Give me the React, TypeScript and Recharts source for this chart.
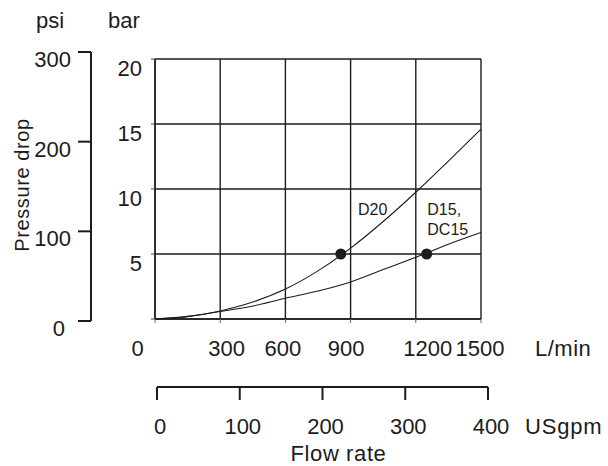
import { ComposedChart, LineChart, Line, Scatter, XAxis, YAxis, CartesianGrid, ReferenceDot } from "recharts";

// flow rate (L/min) and pressure drop (bar)
const flowLpm = [0, 150, 300, 450, 600, 750, 900, 1050, 1200, 1350, 1500];
const d20Bar = [0, 0.18, 0.62, 1.3, 2.3, 3.7, 5.45, 7.5, 9.75, 12.15, 14.6];
const d15Bar = [0, 0.2, 0.58, 1.0, 1.6, 2.15, 2.85, 3.8, 4.75, 5.75, 6.65];

// rated points marked with a dot
const d20Rated = [{ flow: 855, bar: 5 }];
const d15Rated = [{ flow: 1250, bar: 5 }];

const lpmTicks = [0, 300, 600, 900, 1200, 1500];
const barTicks = [0, 5, 10, 15, 20];
const psiTicks = [0, 100, 200, 300];
const gpmTicks = [0, 100, 200, 300, 400];

const rows = flowLpm.map((f, i) => ({ flow: f, d20: d20Bar[i], d15: d15Bar[i] }));
const psiRows = psiTicks.map((v, i) => ({ i, psi: v }));
const gpmRows = gpmTicks.map((v) => ({ gpm: v, y: 0 }));

const INK = "#1c1c1c";
const FONT = "'Liberation Sans', Arial, sans-serif";

// the printed tick labels are not quite centred on their grid lines
const lpmNudge: Record<number, number> = { 0: -17.5, 300: 6.5, 600: -2.5, 900: -4.5, 1200: 12, 1500: -1 };

const LpmTick = (p: any) => (
  <text x={p.x + (lpmNudge[p.payload.value] ?? 0)} y={p.y + 33} textAnchor="middle" fill={INK} fontSize={22} fontFamily={FONT}>
    {p.payload.value}
  </text>
);

const BarTick = (p: any) =>
  p.payload.value === 0 ? <g /> : (
    <text x={p.x} y={p.y + 16.7} textAnchor="end" fill={INK} fontSize={22} fontFamily={FONT}>
      {p.payload.value}
    </text>
  );

const PsiTick = (p: any) => (
  <text x={p.x + (p.payload.value === 0 ? -6 : 0)} y={p.y + 15} textAnchor="end" fill={INK} fontSize={22} fontFamily={FONT}>
    {p.payload.value}
  </text>
);

const GpmTick = (p: any) => (
  <text x={p.x + 3} y={p.y + 34} textAnchor="middle" fill={INK} fontSize={22} fontFamily={FONT}>
    {p.payload.value}
  </text>
);

const lbl = (value: string) => ({ value, position: "right" as const, offset: 0, fill: INK, fontSize: 16, fontFamily: FONT });

export default function App() {
  const layer = { position: "absolute" as const, left: 0, top: 0 };
  return (
    <div style={{ position: "absolute", left: 0, top: 0, width: 608, height: 466, background: "#fff", fontFamily: FONT }}>
      {/* main grid, bar axis and L/min axis */}
      <div style={layer}>
        <ComposedChart width={608} height={466} data={rows} margin={{ top: 59, right: 127, left: 115, bottom: 117 }}>
          <CartesianGrid stroke={INK} strokeWidth={1.4} horizontalValues={barTicks} verticalValues={lpmTicks} />
          <XAxis dataKey="flow" type="number" domain={[0, 1500]} ticks={lpmTicks} height={30}
            axisLine={{ stroke: INK, strokeWidth: 1.4 }} tickLine={{ stroke: "#666" }} tickSize={4} tickMargin={0} tick={LpmTick} />
          <YAxis type="number" domain={[0, 20]} ticks={barTicks} width={40}
            axisLine={{ stroke: INK, strokeWidth: 1.4 }} tickLine={{ stroke: "#444" }} tickSize={4} tickMargin={9} tick={BarTick} />
          <Line type="monotone" dataKey="d20" stroke={INK} strokeWidth={1.1} dot={false} isAnimationActive={false} />
          <Line type="monotone" dataKey="d15" stroke={INK} strokeWidth={1.1} dot={false} isAnimationActive={false} />
          <Scatter data={d20Rated} dataKey="bar" fill={INK} isAnimationActive={false}
            shape={(s: any) => <circle cx={s.cx} cy={s.cy} r={5.5} fill={INK} />} />
          <Scatter data={d15Rated} dataKey="bar" fill={INK} isAnimationActive={false}
            shape={(s: any) => <circle cx={s.cx} cy={s.cy} r={5.5} fill={INK} />} />
          <ReferenceDot x={934} y={8.45} r={0} fill="none" stroke="none" label={lbl("D20")} />
          <ReferenceDot x={1253} y={8.45} r={0} fill="none" stroke="none" label={lbl("D15,")} />
          <ReferenceDot x={1253} y={6.92} r={0} fill="none" stroke="none" label={lbl("DC15")} />
        </ComposedChart>
      </div>

      {/* psi scale */}
      <div style={layer}>
        <LineChart width={100} height={466} data={psiRows} margin={{ top: 52, right: 0, left: 0, bottom: 145 }}>
          <XAxis hide dataKey="i" type="number" domain={[0, 3]} />
          <YAxis type="number" domain={[0, 300]} ticks={psiTicks} width={91}
            axisLine={{ stroke: INK, strokeWidth: 2 }} tickLine={{ stroke: INK, strokeWidth: 2 }} tickSize={13} tickMargin={7} tick={PsiTick} />
          <Line dataKey="psi" stroke="none" dot={false} isAnimationActive={false} />
        </LineChart>
      </div>

      {/* USgpm scale */}
      <div style={layer}>
        <LineChart width={608} height={466} data={gpmRows} margin={{ top: 380, right: 120, left: 157, bottom: 39 }}>
          <XAxis dataKey="gpm" type="number" domain={[0, 400]} ticks={gpmTicks} height={40}
            axisLine={{ stroke: INK, strokeWidth: 2 }} tickLine={{ stroke: INK, strokeWidth: 2 }} tickSize={13} tickMargin={0} tick={GpmTick} />
          <YAxis hide type="number" domain={[0, 1]} />
          <Line dataKey="y" stroke="none" dot={false} isAnimationActive={false} />
        </LineChart>
      </div>

      {/* units and axis titles */}
      <svg style={layer} width={608} height={466}>
        <g fill={INK} fontFamily={FONT} fontSize={22}>
          <text x={36} y={28}>psi</text>
          <text x={108} y={28}>bar</text>
          <text x={535} y={356} letterSpacing={0.5}>L/min</text>
          <text x={525} y={434} letterSpacing={0.8}>USgpm</text>
          <text x={338.5} y={461} textAnchor="middle" letterSpacing={0.6}>Flow rate</text>
          <text x={0} y={0} fontSize={20} letterSpacing={0.6} textAnchor="middle" transform="translate(29,185) rotate(-90)">Pressure drop</text>
        </g>
      </svg>
    </div>
  );
}
